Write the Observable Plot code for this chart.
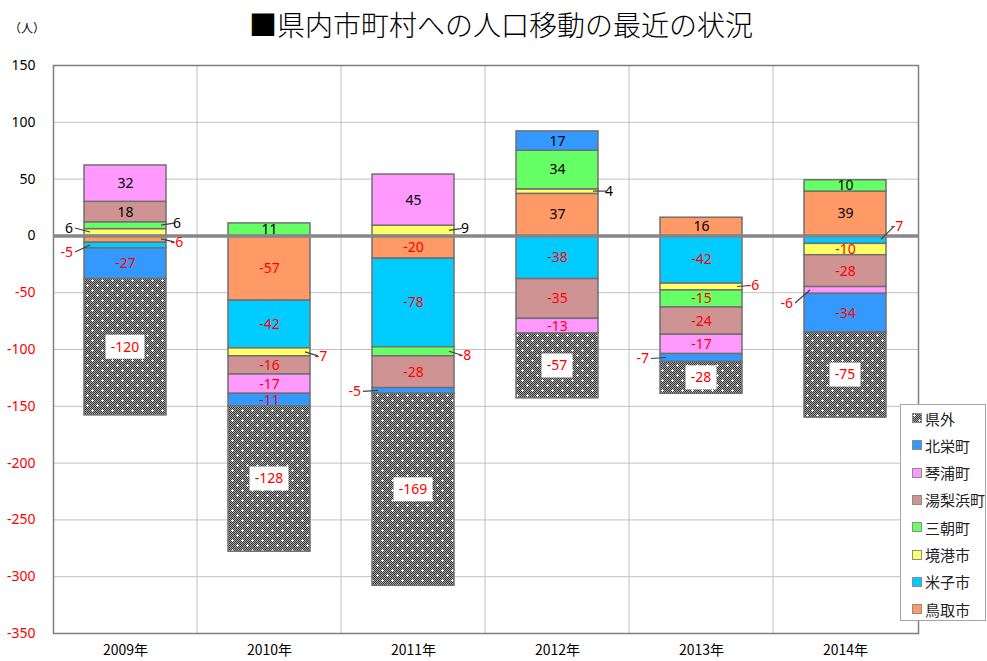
<!DOCTYPE html>
<html><head><meta charset="utf-8">
<script src="https://cdn.jsdelivr.net/npm/d3@7"></script>
<script src="https://cdn.jsdelivr.net/npm/@observablehq/plot@0.6"></script>
<style>
body{margin:0;background:#fff;overflow:hidden;font-family:"Noto Sans CJK JP",sans-serif;}
#wrap{position:relative;width:987px;height:661px;}
#title{position:absolute;left:0;top:5px;width:1002px;text-align:center;font-size:28px;line-height:38px;color:#000;font-weight:300;font-family:"Noto Sans CJK JP",sans-serif;}
#unit{position:absolute;left:9px;top:19px;font-size:12px;color:#000;}
#chart{position:absolute;left:0;top:48px;}
#legend{position:absolute;left:900px;top:404px;width:86px;height:217px;border:1px solid #a6a6a6;background:#fff;box-sizing:border-box;}
.item{position:absolute;left:11px;height:20px;display:flex;align-items:center;font-size:15px;color:#222;white-space:nowrap;}
.item svg{margin-right:3px;}
</style>
</head><body>
<div id="wrap">
  <div id="title">■県内市町村への人口移動の最近の状況</div>
  <div id="unit">（人）</div>
  <div id="chart"></div>
  <div id="legend"></div>
</div>
<script>
// ---- data ----
const years = ["2009", "2010", "2011", "2012", "2013", "2014"];
const series = ["鳥取市", "米子市", "境港市", "三朝町", "湯梨浜町", "琴浦町", "北栄町", "県外"];
const tottori     = [-6, -57, -20, 37, 16, 39];
const yonago      = [-5, -42, -78, -38, -42, -7];
const sakaiminato = [6, -7, 9, 4, -6, -10];
const misasa      = [6, 11, -8, 34, -15, 10];
const yurihama    = [18, -16, -28, -35, -24, -28];
const kotoura     = [32, -17, 45, -13, -17, -6];
const hokuei      = [-27, -11, -5, 17, -7, -34];
const kengai      = [-120, -128, -169, -57, -28, -75];
const yTicks = [150, 100, 50, 0, -50, -100, -150, -200, -250, -300, -350];
const colors = ["#ff9966", "#00ccff", "#ffff66", "#66ff66", "#cf9393", "#ff99ff", "#3399ff", "url(#pat)"];
// labels drawn outside the bar with a leader: [year, series, side, vertical nudge]
const outside = [
  ["2009", "境港市", -1, -4], ["2009", "三朝町", 1, -2], ["2009", "鳥取市", 1, 3], ["2009", "米子市", -1, 7],
  ["2010", "境港市", 1, 4],
  ["2011", "境港市", 1, -2], ["2011", "三朝町", 1, 4], ["2011", "北栄町", -1, 1],
  ["2012", "境港市", 1, 0],
  ["2013", "境港市", 1, -1], ["2013", "北栄町", -1, 1],
  ["2014", "米子市", 1, -13], ["2014", "琴浦町", -1, 13]
];

const values = [tottori, yonago, sakaiminato, misasa, yurihama, kotoura, hokuei, kengai];
const rows = [];
years.forEach((yr, i) => {
  let pos = 0, neg = 0;
  series.forEach((s, j) => {
    const v = values[j][i];
    let y1, y2;
    if (v >= 0) { y1 = pos; y2 = pos + v; pos = y2; }
    else { y1 = neg; y2 = neg + v; neg = y2; }
    const o = outside.find(d => d[0] === yr && d[1] === s);
    rows.push({year: yr, series: s, value: v, y1, y2, mid: (y1 + y2) / 2,
      side: o ? o[2] : 0, nudge: o ? o[3] : 0});
  });
});
const inside = rows.filter(r => r.side === 0 && r.series !== "県外");

const numFont = "'Noto Sans', sans-serif";
const chart = Plot.plot({
  width: 987, height: 613,
  marginTop: 17, marginBottom: 28, marginLeft: 53, marginRight: 69,
  style: {fontFamily: numFont, fontSize: "14px", background: "#fff", overflow: "visible"},
  x: {domain: years, paddingInner: 0.43, paddingOuter: 0.215, axis: null},
  y: {domain: [-350, 150], axis: null},
  color: {domain: series, range: colors},
  marks: [
    Plot.ruleY(yTicks.filter(t => t !== 0), {stroke: "#c0c0c0", strokeWidth: 1}),
    Plot.barY(rows, {x: "year", y1: "y1", y2: "y2", fill: "series", stroke: "#707070", strokeWidth: 1.5}),
    Plot.ruleY([0], {stroke: "#878787", strokeWidth: 3.5}),
    Plot.frame({stroke: "#7f7f7f", strokeWidth: 1.5}),
    Plot.text(inside.filter(r => r.value >= 0), {x: "year", y: "mid", text: r => String(r.value), fill: "#000", fontSize: 14}),
    Plot.text(inside.filter(r => r.value < 0), {x: "year", y: "mid", text: r => String(r.value), fill: "#ff0000", fontSize: 14}),
    Plot.text(yTicks.filter(t => t >= 0), {y: d => d, text: d => String(d), frameAnchor: "left", textAnchor: "end", dx: -18, fill: "#000", fontSize: 14}),
    Plot.text(yTicks.filter(t => t < 0), {y: d => d, text: d => String(d), frameAnchor: "left", textAnchor: "end", dx: -18, fill: "#ff0000", fontSize: 14}),
    Plot.text(years, {x: d => d, text: d => d + "年", frameAnchor: "bottom", dy: 21, fill: "#000", fontSize: 14, fontFamily: "'Noto Sans CJK JP', sans-serif"})
  ]
});
document.getElementById("chart").appendChild(chart);

// ---- decorations using Plot's own scales ----
const svg = d3.select(chart);
const xs = chart.scale("x"), ys = chart.scale("y");
const X = d => xs.apply(d), Y = v => ys.apply(v);
const bw = xs.bandwidth, step = xs.step;

// pattern for 県外
const defs = svg.append("defs");
const pat = defs.append("pattern").attr("id", "pat").attr("patternUnits", "userSpaceOnUse")
  .attr("width", 10).attr("height", 10);
pat.append("rect").attr("width", 10).attr("height", 10).attr("fill", "#a8a8a8");
for (let i = 0; i < 10; i++) for (let j = 0; j < 10; j++) {
  if ((i + j) % 2 === 0) pat.append("rect").attr("x", i).attr("y", j).attr("width", 1).attr("height", 1).attr("fill", "#333333");
}
[[2, 2], [7, 7]].forEach(([cx, cy]) => {
  pat.append("rect").attr("x", cx - 1).attr("y", cy).attr("width", 3).attr("height", 1).attr("fill", "#fff");
  pat.append("rect").attr("x", cx).attr("y", cy - 1).attr("width", 1).attr("height", 3).attr("fill", "#fff");
});

// vertical gridlines at category boundaries (beneath bars)
const barG = chart.querySelector('g[aria-label="bar"]');
const vg = document.createElementNS("http://www.w3.org/2000/svg", "g");
chart.insertBefore(vg, barG);
const yTop = Y(150), yBot = Y(-350);
years.slice(1).forEach(yr => {
  const gx = X(yr) - (step - bw) / 2;
  d3.select(vg).append("line").attr("x1", gx).attr("x2", gx).attr("y1", yTop).attr("y2", yBot)
    .attr("stroke", "#c0c0c0").attr("stroke-width", 1);
});

// outside labels with leader lines
const og = svg.append("g").attr("font-family", numFont).attr("font-size", 14);
rows.filter(r => r.side !== 0).forEach(r => {
  const ym = Y(r.mid), yl = ym + r.nudge;
  const color = r.value < 0 ? "#ff0000" : "#000";
  if (r.side > 0) {
    const xr = X(r.year) + bw;
    og.append("line").attr("x1", xr - 5).attr("y1", ym).attr("x2", xr + 8).attr("y2", yl)
      .attr("stroke", "#404040").attr("stroke-width", 1.2);
    og.append("text").attr("x", xr + 11).attr("y", yl).attr("dy", "0.35em").attr("fill", color).text(String(r.value));
  } else {
    const xl = X(r.year);
    og.append("line").attr("x1", xl + 6).attr("y1", ym).attr("x2", xl - 9).attr("y2", yl)
      .attr("stroke", "#404040").attr("stroke-width", 1.2);
    og.append("text").attr("x", xl - 11).attr("y", yl).attr("dy", "0.35em").attr("text-anchor", "end").attr("fill", color).text(String(r.value));
  }
});

// 県外 labels with white boxes
rows.filter(r => r.series === "県外").forEach(r => {
  const cx = X(r.year) + bw / 2, cy = Y(r.mid);
  const t = String(r.value);
  const w = t.length * 8 + 7;
  og.append("rect").attr("x", cx - w / 2).attr("y", cy - 12).attr("width", w).attr("height", 24).attr("fill", "#fff");
  og.append("text").attr("x", cx).attr("y", cy).attr("dy", "0.35em").attr("text-anchor", "middle").attr("fill", "#ff0000").text(t);
});

// legend (reverse order, as in the reference)
const legend = document.getElementById("legend");
series.slice().reverse().forEach((s, i) => {
  const div = document.createElement("div");
  div.className = "item";
  div.style.top = (3 + i * 27.3) + "px";
  const c = colors[series.indexOf(s)];
  div.innerHTML = `<svg width="10" height="10"><rect x="0.5" y="0.5" width="9" height="9" fill="${c}" stroke="#8c8c8c"/></svg><span>${s}</span>`;
  legend.appendChild(div);
});
</script>
</body></html>
